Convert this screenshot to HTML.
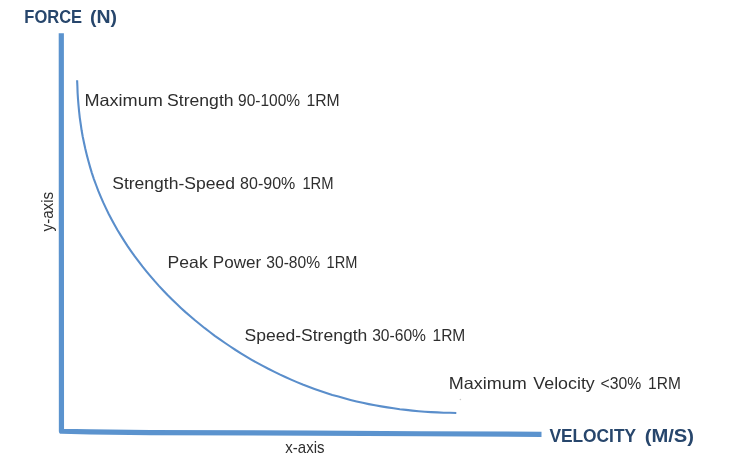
<!DOCTYPE html>
<html><head><meta charset="utf-8"><title>Force Velocity Curve</title>
<style>
html,body{margin:0;padding:0;background:#fff;}
svg{display:block;}
.t{font-family:"Liberation Sans",sans-serif;fill:#2e2e2e;font-size:16.5px;}
.b{font-family:"Liberation Sans",sans-serif;font-weight:bold;fill:#27466c;font-size:19px;}
.s{font-family:"Liberation Sans",sans-serif;fill:#2e2e2e;font-size:17px;}
</style></head>
<body>
<svg width="748" height="459" viewBox="0 0 748 459">
<rect width="748" height="459" fill="#ffffff"/>
<!-- axes -->
<path d="M61.3 33.3 L61.45 431.25 L90 431.9 L150 432.7 L310 433.1 L420 433.75 L541.5 434.3" fill="none" stroke="#5b93ce" stroke-width="5.2" stroke-linejoin="round"/>
<!-- curve -->
<path d="M77.1 80.2 L77.4 86.4 L77.6 92.7 L78.0 99.0 L78.5 105.2 L79.1 111.5 L79.8 117.8 L80.7 124.0 L81.6 130.3 L82.7 136.5 L84.0 142.7 L85.3 148.8 L86.8 155.0 L88.4 161.1 L90.1 167.1 L91.9 173.1 L93.9 179.1 L96.1 185.0 L98.3 190.9 L100.7 196.7 L103.2 202.4 L105.9 208.1 L108.6 213.7 L111.5 219.3 L114.5 224.8 L117.6 230.2 L120.9 235.6 L124.2 240.9 L127.6 246.1 L131.2 251.3 L134.8 256.4 L138.6 261.4 L142.4 266.4 L146.4 271.3 L150.4 276.1 L154.5 280.9 L158.7 285.6 L163.0 290.2 L167.3 294.7 L171.8 299.2 L176.3 303.6 L180.9 307.9 L185.5 312.1 L190.3 316.2 L195.0 320.3 L199.9 324.3 L204.8 328.2 L209.8 332.0 L214.8 335.8 L219.9 339.4 L225.1 343.0 L230.3 346.5 L235.6 350.0 L240.9 353.3 L246.3 356.6 L251.7 359.8 L257.2 362.9 L262.8 365.9 L268.3 368.8 L274.0 371.6 L279.6 374.4 L285.3 377.0 L291.1 379.6 L296.9 382.1 L302.7 384.5 L308.6 386.7 L314.5 388.9 L320.4 391.0 L326.3 393.0 L332.3 394.9 L338.4 396.6 L344.4 398.3 L350.5 399.9 L356.6 401.4 L362.7 402.8 L368.8 404.1 L375.0 405.3 L381.2 406.4 L387.4 407.4 L393.6 408.3 L399.8 409.2 L406.1 409.9 L412.3 410.6 L418.6 411.2 L424.9 411.7 L431.1 412.1 L437.4 412.4 L443.7 412.7 L450.0 412.8 L456.3 413.0" fill="none" stroke="#5a8ecb" stroke-width="2.1" stroke-linejoin="round" stroke-linecap="butt"/>
<circle cx="460.4" cy="399.5" r="0.8" fill="#c8c8c8"/>
<!-- titles -->
<text class="b" y="22.9"><tspan x="24.3" textLength="57.8" lengthAdjust="spacingAndGlyphs">FORCE</tspan> <tspan x="90.0" textLength="27" lengthAdjust="spacingAndGlyphs">(N)</tspan></text>
<text class="b" y="442.2"><tspan x="549.4" textLength="86.4" lengthAdjust="spacingAndGlyphs">VELOCITY</tspan> <tspan x="644.7" textLength="49.3" lengthAdjust="spacingAndGlyphs">(M/S)</tspan></text>
<!-- labels -->
<text class="t" y="106.2"><tspan x="84.4" textLength="78.4" lengthAdjust="spacingAndGlyphs">Maximum</tspan> <tspan x="167.0" textLength="66.6" lengthAdjust="spacingAndGlyphs">Strength</tspan> <tspan x="238.1" textLength="62.0" lengthAdjust="spacingAndGlyphs">90-100%</tspan> <tspan x="306.4" textLength="33.2" lengthAdjust="spacingAndGlyphs">1RM</tspan></text>
<text class="t" y="189.3"><tspan x="112.2" textLength="122.8" lengthAdjust="spacingAndGlyphs">Strength-Speed</tspan> <tspan x="240.1" textLength="55.2" lengthAdjust="spacingAndGlyphs">80-90%</tspan> <tspan x="302.4" textLength="31.2" lengthAdjust="spacingAndGlyphs">1RM</tspan></text>
<text class="t" y="268.2"><tspan x="167.6" textLength="40.1" lengthAdjust="spacingAndGlyphs">Peak</tspan> <tspan x="212.8" textLength="48.4" lengthAdjust="spacingAndGlyphs">Power</tspan> <tspan x="266.3" textLength="53.8" lengthAdjust="spacingAndGlyphs">30-80%</tspan> <tspan x="326.6" textLength="30.8" lengthAdjust="spacingAndGlyphs">1RM</tspan></text>
<text class="t" y="340.9"><tspan x="244.5" textLength="122.8" lengthAdjust="spacingAndGlyphs">Speed-Strength</tspan> <tspan x="372.2" textLength="53.8" lengthAdjust="spacingAndGlyphs">30-60%</tspan> <tspan x="432.5" textLength="32.8" lengthAdjust="spacingAndGlyphs">1RM</tspan></text>
<text class="t" y="388.5"><tspan x="448.8" textLength="78.0" lengthAdjust="spacingAndGlyphs">Maximum</tspan> <tspan x="533.3" textLength="61.5" lengthAdjust="spacingAndGlyphs">Velocity</tspan> <tspan x="600.6" textLength="40.7" lengthAdjust="spacingAndGlyphs">&lt;30%</tspan> <tspan x="648.1" textLength="32.7" lengthAdjust="spacingAndGlyphs">1RM</tspan></text>
<text class="s" x="285.3" y="453.1" textLength="39.3" lengthAdjust="spacingAndGlyphs">x-axis</text>
<text class="s" transform="translate(53.3 231.4) rotate(-90)" textLength="39.5" lengthAdjust="spacingAndGlyphs">y-axis</text>
</svg>
</body></html>
